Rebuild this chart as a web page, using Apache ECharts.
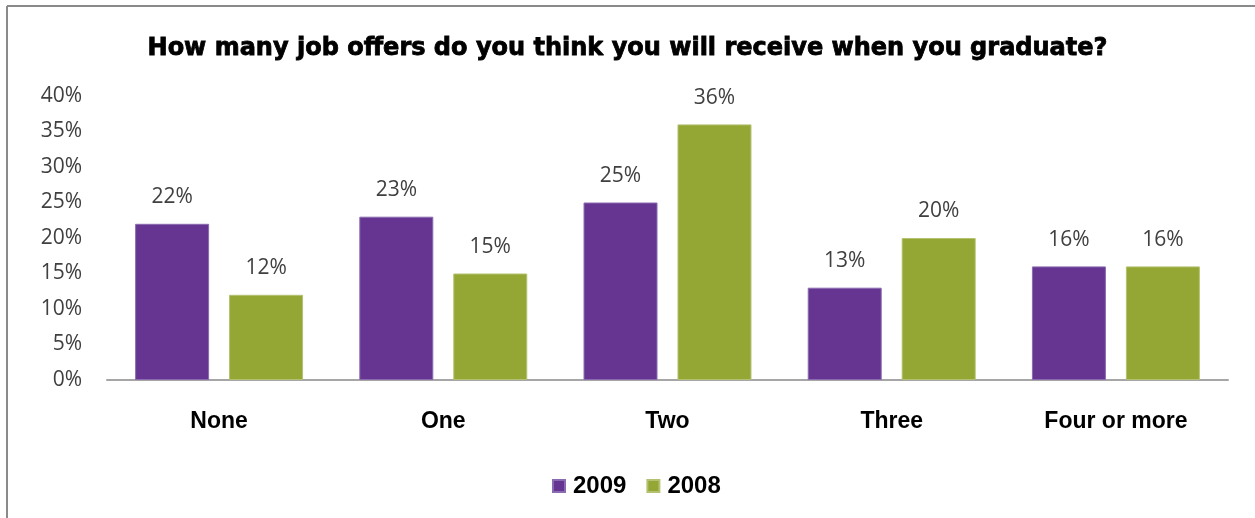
<!DOCTYPE html>
<html>
<head>
<meta charset="utf-8">
<script src="https://cdn.jsdelivr.net/npm/echarts@6/dist/echarts.min.js"></script>
<style>
  html, body { margin: 0; padding: 0; background: #fff; }
  #chart { width: 1255px; height: 518px; }
</style>
</head>
<body>
<div id="chart"></div>
<script>
// Survey answers: expected number of job offers at graduation
const categories = ['None', 'One', 'Two', 'Three', 'Four or more'];
const values2009 = [22, 23, 25, 13, 16];
const values2008 = [12, 15, 36, 20, 16];
const yTicks = [0, 5, 10, 15, 20, 25, 30, 35, 40];

const purple = '#663592';
const green = '#94A634';

const chart = echarts.init(document.getElementById('chart'), null, { renderer: 'canvas' });

const labelStyle = {
  show: true,
  position: 'top',
  distance: 16,
  formatter: p => p.value + '%',
  fontFamily: 'Open Sans',
  fontSize: 21,
  color: '#404040'
};

chart.setOption({
  animation: false,
  backgroundColor: '#fff',
  title: {
    text: 'How many job offers do you think you will receive when you graduate?',
    left: 'center',
    top: 32,
    textStyle: {
      fontFamily: 'DejaVu Sans',
      fontWeight: 'bold',
      fontSize: 24,
      color: '#000',
      textBorderColor: '#000',
      textBorderWidth: 0.8
    }
  },
  graphic: [
    { type: 'line', shape: { x1: 7, y1: 6, x2: 1255, y2: 6 }, style: { stroke: '#8a8a8a', lineWidth: 2 } },
    { type: 'line', shape: { x1: 7, y1: 6, x2: 7, y2: 518 }, style: { stroke: '#8a8a8a', lineWidth: 2 } }
  ],
  legend: {
    bottom: 15,
    left: 547,
    itemWidth: 12,
    itemHeight: 12,
    itemGap: 20,
    icon: 'rect',
    textStyle: { fontFamily: 'Liberation Sans', fontWeight: 'bold', fontSize: 24, color: '#000', padding: [0, 0, 0, 3] },
    data: ['2009', '2008']
  },
  grid: { left: 107, right: 27, top: 96, bottom: 138 },
  xAxis: {
    type: 'category',
    data: categories,
    axisTick: { show: false },
    axisLine: { lineStyle: { color: '#a6a6a6', width: 2 } },
    axisLabel: {
      margin: 30,
      fontFamily: 'Liberation Sans',
      fontWeight: 'bold',
      fontSize: 23,
      color: '#000'
    }
  },
  yAxis: {
    type: 'value',
    min: yTicks[0],
    max: yTicks[yTicks.length - 1],
    interval: 5,
    splitLine: { show: false },
    axisLine: { show: false },
    axisTick: { show: false },
    axisLabel: {
      margin: 25,
      formatter: v => v + '%',
      fontFamily: 'Open Sans',
      fontSize: 21,
      color: '#404040'
    }
  },
  series: [
    {
      name: '2009',
      type: 'bar',
      data: values2009,
      barWidth: '33%',
      barGap: '27%',
      itemStyle: { color: purple, borderColor: '#8a6bb0', borderWidth: 1 },
      label: labelStyle
    },
    {
      name: '2008',
      type: 'bar',
      data: values2008,
      barWidth: '33%',
      itemStyle: { color: green, borderColor: '#b2c270', borderWidth: 1 },
      label: labelStyle
    }
  ]
});
</script>
</body>
</html>
